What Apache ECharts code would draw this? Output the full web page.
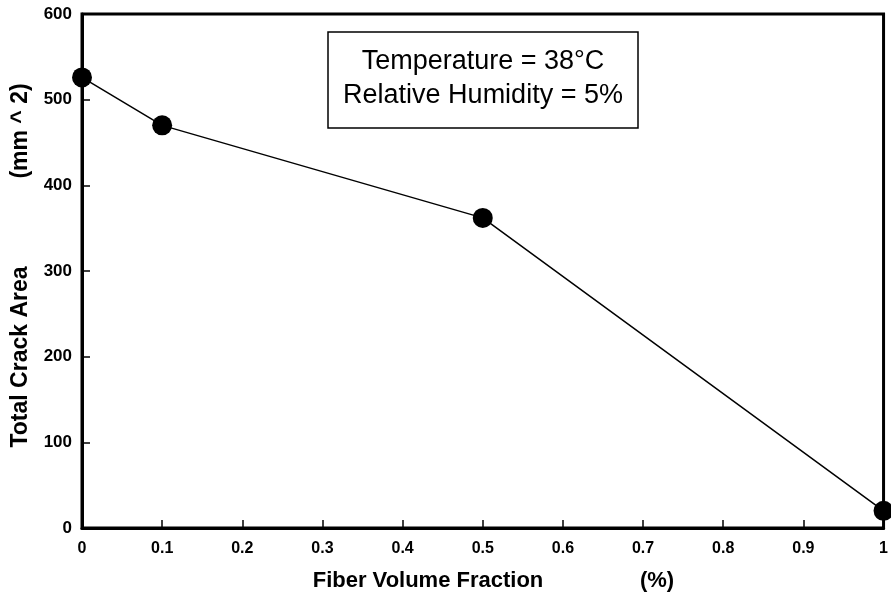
<!DOCTYPE html>
<html>
<head>
<meta charset="utf-8">
<script src="https://cdn.jsdelivr.net/npm/echarts@6/dist/echarts.min.js"></script>
<style>
  html, body { margin: 0; padding: 0; background: #fff; }
  #chart { width: 891px; height: 596px; }
</style>
</head>
<body>
<div id="chart"></div>
<script>
// data
const fiberFraction = [0, 0.1, 0.5, 1.0];
const crackArea = [526, 470, 362, 20];
const xTicks = [0, 0.1, 0.2, 0.3, 0.4, 0.5, 0.6, 0.7, 0.8, 0.9, 1];
const yTicks = [0, 100, 200, 300, 400, 500, 600];
const noteLines = ['Temperature = 38°C', 'Relative Humidity = 5%'];

const chart = echarts.init(document.getElementById('chart'));
const font = 'Liberation Sans, Arial, Helvetica, sans-serif';

const option = {
  animation: false,
  grid: {
    left: 82, right: 4, top: 14, bottom: 68,
    show: true, borderColor: '#000', borderWidth: 3, backgroundColor: 'transparent'
  },
  xAxis: {
    type: 'value',
    min: xTicks[0], max: xTicks[xTicks.length - 1], interval: 0.1,
    axisLine: { lineStyle: { color: '#000', width: 3 } },
    axisTick: { inside: true, length: 8, lineStyle: { color: '#000', width: 1.5 } },
    splitLine: { show: false },
    axisLabel: {
      margin: 13, color: '#000', fontFamily: font, fontWeight: 'bold', fontSize: 16,
      formatter: v => (Math.abs(v - 1) < 1e-9 ? '1' : (Math.abs(v) < 1e-9 ? '0' : v.toFixed(1)))
    }
  },
  yAxis: {
    type: 'value',
    min: yTicks[0], max: yTicks[yTicks.length - 1], interval: 100,
    axisLine: { show: true, lineStyle: { color: '#000', width: 3 } },
    axisTick: { show: true, inside: true, length: 8, lineStyle: { color: '#000', width: 1.5 } },
    splitLine: { show: false },
    axisLabel: { margin: 10, color: '#000', fontFamily: font, fontWeight: 'bold', fontSize: 17 }
  },
  series: [{
    type: 'line',
    data: fiberFraction.map((x, i) => [x, crackArea[i]]),
    symbol: 'circle',
    symbolSize: 20,
    itemStyle: { color: '#000' },
    lineStyle: { color: '#000', width: 1.5 },
    clip: false
  }],
  graphic: [
    {
      type: 'rect', x: 328, y: 32,
      shape: { width: 310, height: 96 },
      style: { fill: '#fff', stroke: '#000', lineWidth: 1.5 }
    },
    {
      type: 'text', x: 483, y: 62,
      style: { text: noteLines[0], font: '27px ' + font, fill: '#000', textAlign: 'center', textVerticalAlign: 'middle' }
    },
    {
      type: 'text', x: 483, y: 96,
      style: { text: noteLines[1], font: '27px ' + font, fill: '#000', textAlign: 'center', textVerticalAlign: 'middle' }
    },
    {
      type: 'text', x: 428, y: 581,
      style: { text: 'Fiber Volume Fraction', font: 'bold 22px ' + font, fill: '#000', textAlign: 'center', textVerticalAlign: 'middle' }
    },
    {
      type: 'text', x: 657, y: 581,
      style: { text: '(%)', font: 'bold 22px ' + font, fill: '#000', textAlign: 'center', textVerticalAlign: 'middle' }
    },
    {
      type: 'text', rotation: Math.PI / 2,
      x: 21, y: 357,
      style: { text: 'Total Crack Area', font: 'bold 23px ' + font, fill: '#000', textAlign: 'center', textVerticalAlign: 'middle' }
    },
    {
      type: 'text', rotation: Math.PI / 2,
      x: 21, y: 131,
      style: { text: '(mm ^ 2)', font: 'bold 23px ' + font, fill: '#000', textAlign: 'center', textVerticalAlign: 'middle' }
    }
  ]
};

chart.setOption(option);
</script>
</body>
</html>
